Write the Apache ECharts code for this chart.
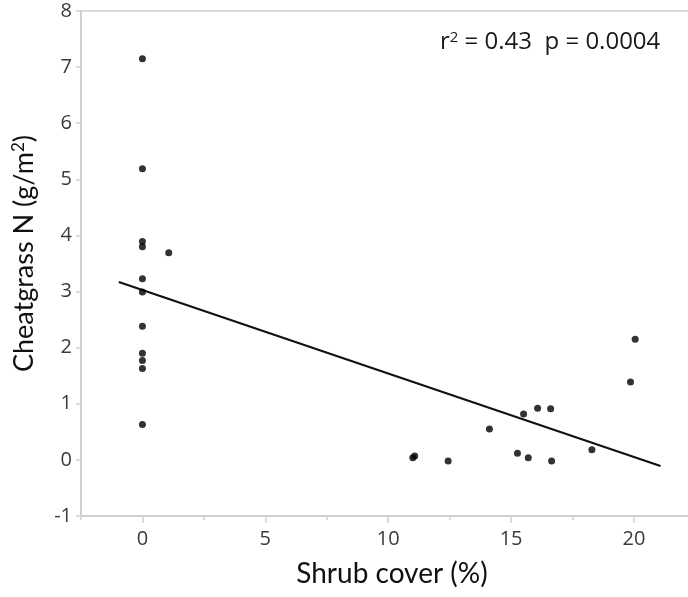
<!DOCTYPE html>
<html>
<head>
<meta charset="utf-8">
<script src="https://cdn.jsdelivr.net/npm/echarts@6/dist/echarts.min.js"></script>
<style>
  html, body { margin: 0; padding: 0; background: #fff; }
  #chart { width: 688px; height: 597px; }
</style>
</head>
<body>
<div id="chart"></div>
<script>
// Shrub cover (%) vs cheatgrass nitrogen (g/m²), one point per plot
const shrubCover = [0, 0, 0, 0, 1.07, 0, 0, 0, 0, 0, 0, 0,
  11.0, 11.08, 12.44, 14.12, 15.26, 15.51, 15.70, 16.08, 16.61, 16.65, 18.29, 19.86, 20.05];
const cheatgrassN = [7.15, 5.19, 3.89, 3.80, 3.69, 3.23, 2.99, 2.38, 1.90, 1.77, 1.63, 0.63,
  0.04, 0.07, -0.02, 0.55, 0.12, 0.82, 0.04, 0.92, 0.91, -0.02, 0.18, 1.39, 2.15];

// Least-squares fit line, drawn between its two end points
const fitX = [-0.96, 21.08];
const fitY = [3.17, -0.11];

// Tick marks
const xMajorTicks = [0, 5, 10, 15, 20];
const xMinorTicks = [-2.5, 2.5, 7.5, 12.5, 17.5];
const yTicks = [-1, 0, 1, 2, 3, 4, 5, 6, 7, 8];

const points = shrubCover.map((x, i) => [x, cheatgrassN[i]]);
const fitLine = fitX.map((x, i) => [x, fitY[i]]);

const axisGray = '#cfcfcf';
const labelColor = '#363b40';
const xMin = -2.5, xMax = 22.2;

const chart = echarts.init(document.getElementById('chart'), null, { renderer: 'canvas' });
chart.setOption({
  animation: false,
  backgroundColor: '#fff',
  grid: { left: 81, right: 0, top: 11, bottom: 81, containLabel: false },
  title: {
    text: 'r{sup|2} = 0.43  p = 0.0004',
    left: 435,
    top: 25,
    textStyle: {
      fontFamily: 'Open Sans',
      fontSize: 24,
      fontWeight: 'normal',
      color: '#1a1a1a',
      rich: {
        sup: { fontFamily: 'Open Sans', fontSize: 15, color: '#1a1a1a', verticalAlign: 'top', padding: [0, 0, 9, 0] }
      }
    }
  },
  xAxis: [
    {
      type: 'value',
      min: xMin, max: xMax,
      position: 'bottom',
      name: 'Shrub cover (%)',
      nameLocation: 'middle',
      nameGap: 44,
      nameTextStyle: { fontFamily: 'Lato', fontSize: 28, color: '#111', padding: [0, 0, 0, 15] },
      axisLine: { show: true, onZero: false, lineStyle: { color: axisGray, width: 2 } },
      axisTick: { show: true, customValues: xMajorTicks, length: 7, lineStyle: { color: axisGray, width: 1.5 } },
      axisLabel: {
        customValues: xMajorTicks,
        margin: 13,
        fontFamily: 'Open Sans', fontSize: 20, color: labelColor
      },
      splitLine: { show: false }
    },
    {
      // minor ticks between the labelled ones
      type: 'value',
      min: xMin, max: xMax,
      position: 'bottom',
      axisLine: { show: false, onZero: false },
      axisTick: { show: true, customValues: xMinorTicks, length: 4, lineStyle: { color: axisGray, width: 1.5 } },
      axisLabel: { show: false },
      splitLine: { show: false }
    },
    {
      // top frame line
      type: 'value',
      min: xMin, max: xMax,
      position: 'top',
      axisLine: { show: true, onZero: false, lineStyle: { color: axisGray, width: 1.5 } },
      axisTick: { show: false },
      axisLabel: { show: false },
      splitLine: { show: false }
    }
  ],
  yAxis: {
    type: 'value',
    min: yTicks[0], max: yTicks[yTicks.length - 1], interval: 1,
    name: 'Cheatgrass N (g/m{sup|2})',
    nameLocation: 'middle',
    nameGap: 42,
    nameRotate: 90,
    nameTextStyle: {
      fontFamily: 'Lato', fontSize: 27, color: '#111',
      padding: [0, 0, 0, 20],
      rich: { sup: { fontFamily: 'Lato', fontSize: 17, color: '#111', verticalAlign: 'top', padding: [0, 0, 12, 0] } }
    },
    axisLine: { show: true, onZero: false, lineStyle: { color: axisGray, width: 2 } },
    axisTick: { show: true, length: 5, lineStyle: { color: axisGray, width: 1.5 } },
    axisLabel: { margin: 9, fontFamily: 'Open Sans', fontSize: 20, color: labelColor },
    splitLine: { show: false }
  },
  series: [
    {
      type: 'line',
      data: fitLine,
      xAxisIndex: 0,
      symbol: 'none',
      lineStyle: { color: '#111', width: 2.2 },
      z: 2
    },
    {
      type: 'scatter',
      data: points,
      xAxisIndex: 0,
      symbol: 'circle',
      symbolSize: 7,
      itemStyle: { color: '#000' },
      z: 3
    }
  ]
});
</script>
</body>
</html>
